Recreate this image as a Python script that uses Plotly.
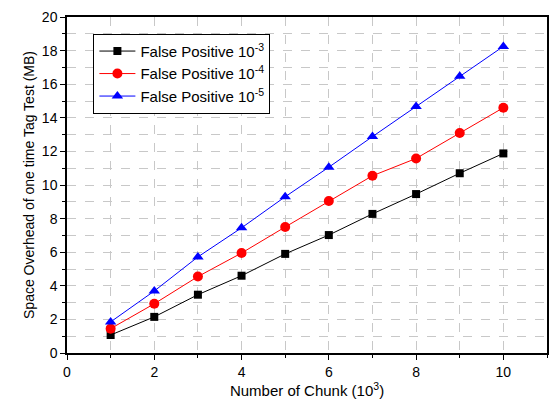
import plotly.graph_objects as go

x_chunks = [1, 2, 3, 4, 5, 6, 7, 8, 9, 10]
fp_1e3 = [1.07, 2.15, 3.47, 4.6, 5.9, 7.02, 8.28, 9.46, 10.7, 11.88]
fp_1e4 = [1.45, 2.93, 4.55, 5.95, 7.5, 9.05, 10.55, 11.58, 13.1, 14.6]
fp_1e5 = [1.85, 3.69, 5.72, 7.45, 9.3, 11.06, 12.88, 14.68, 16.47, 18.25]
names = ["False Positive 10<sup>-3</sup>", "False Positive 10<sup>-4</sup>", "False Positive 10<sup>-5</sup>"]
colors = ["black", "red", "blue"]
symbols = ["square", "circle", "triangle-up"]

fig = go.Figure()
for ys, nm, c, s in zip([fp_1e3, fp_1e4, fp_1e5], names, colors, symbols):
    fig.add_trace(go.Scatter(
        x=x_chunks, y=ys, name=nm, mode="lines+markers",
        line=dict(color=c, width=1),
        marker=dict(symbol=s, color=c, size=10 if s != "square" else 8),
    ))

fam = "Liberation Sans, Arial, sans-serif"
tickfont = dict(family=fam, size=14, color="black")
axis_common = dict(
    showline=True, linecolor="black", linewidth=1.5, mirror=True,
    ticks="outside", ticklen=5, tickwidth=1, tickcolor="black",
    showgrid=True, gridcolor="#c8c8c8", griddash="dash", gridwidth=1,
    zeroline=False, tickfont=tickfont,
)
fig.update_xaxes(range=[0, 11], dtick=2, tick0=0,
                 minor=dict(dtick=1, ticks="outside", ticklen=3, tickcolor="black",
                            showgrid=True, gridcolor="#c8c8c8", griddash="dash"),
                 title=dict(text="Number of Chunk (10<sup>3</sup>)",
                            font=dict(family=fam, size=15, color="black"), standoff=6),
                 **axis_common)
fig.update_yaxes(range=[0, 20], dtick=2, tick0=0,
                 minor=dict(dtick=1, ticks="outside", ticklen=3, tickcolor="black",
                            showgrid=True, gridcolor="#c8c8c8", griddash="dash"),
                 title=dict(text="Space Overhead of one time Tag Test (MB)",
                            font=dict(family=fam, size=14, color="black"), standoff=4),
                 **axis_common)

fig.update_layout(
    width=552, height=403,
    margin=dict(l=67, r=3, t=17, b=50),
    plot_bgcolor="white", paper_bgcolor="white",
    font=dict(family=fam, size=14, color="black"),
    legend=dict(x=0.055, y=0.95, xanchor="left", yanchor="top",
                bordercolor="black", borderwidth=1, bgcolor="white",
                font=dict(family=fam, size=15, color="black"),
                tracegroupgap=0, itemwidth=36),
)
fig.write_html("out.html")
